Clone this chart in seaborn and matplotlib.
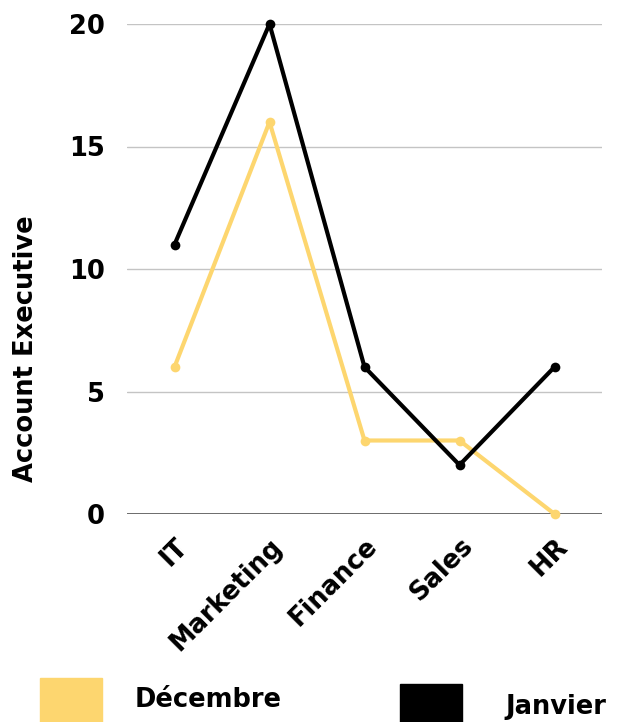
import matplotlib.pyplot as plt
from matplotlib.patches import Rectangle
import pandas as pd
import seaborn as sns

# data
departments = ['IT', 'Marketing', 'Finance', 'Sales', 'HR']
decembre = [6, 16, 3, 3, 0]
janvier = [11, 20, 6, 2, 6]
series_names = ['Décembre', 'Janvier']
colors = ['#FDD66F', '#000000']

font_ = ['DejaVu Sans']
font_size_ = 18.5
weight_ = 'bold'

sns.set_style('white')
plt.rcParams['font.family'] = font_
plt.rcParams['text.color'] = 'black'
plt.rcParams['axes.labelcolor'] = 'black'
plt.rcParams['xtick.color'] = 'black'
plt.rcParams['ytick.color'] = 'black'

df = pd.DataFrame({
    'department': departments * 2,
    'value': decembre + janvier,
    'month': [series_names[0]] * len(departments) + [series_names[1]] * len(departments),
})

fig = plt.figure(figsize=(6.22, 7.22), dpi=100)
ax = fig.add_axes([127 / 622, 208 / 722, 475 / 622, 490 / 722])

sns.lineplot(data=df, x='department', y='value', hue='month', palette=colors,
             marker='o', markersize=7, markeredgewidth=0, linewidth=3,
             sort=False, legend=False, ax=ax, clip_on=False)

ax.set_xlim(-0.5, len(departments) - 0.5)
ax.set_ylim(0, 20)
ax.set_yticks([0, 5, 10, 15, 20])
ax.yaxis.grid(True, color='#c4c4c4', linewidth=1)
ax.set_axisbelow(True)
ax.axhline(0, color='#555555', linewidth=1.2, zorder=1)
sns.despine(ax=ax, left=True, bottom=True)
ax.tick_params(axis='both', length=0, labelsize=font_size_)
ax.tick_params(axis='y', pad=16)
for lbl in ax.get_yticklabels():
    lbl.set_fontweight(weight_)
ax.set_xticks(range(len(departments)))
ax.set_xticklabels(departments, rotation=45, ha='right', rotation_mode='anchor',
                   fontsize=font_size_, fontweight=weight_)
ax.tick_params(axis='x', pad=14)
ax.set_xlabel('')
ax.set_ylabel('Account Executive', fontsize=font_size_, fontweight=weight_)
ax.yaxis.set_label_coords(-0.185, 0.337)

# legend drawn as swatches below the chart
fig.add_artist(Rectangle((40 / 622, -10 / 722), 62 / 622, 54 / 722,
                         transform=fig.transFigure, color=colors[0], clip_on=False))
fig.add_artist(Rectangle((400 / 622, -10 / 722), 62 / 622, 48 / 722,
                         transform=fig.transFigure, color=colors[1], clip_on=False))
fig.text(135 / 622, 22 / 722, series_names[0], fontsize=font_size_, fontweight=weight_, va='center')
fig.text(505 / 622, 15 / 722, series_names[1], fontsize=font_size_, fontweight=weight_, va='center')

plt.savefig('out.png', dpi=100)
